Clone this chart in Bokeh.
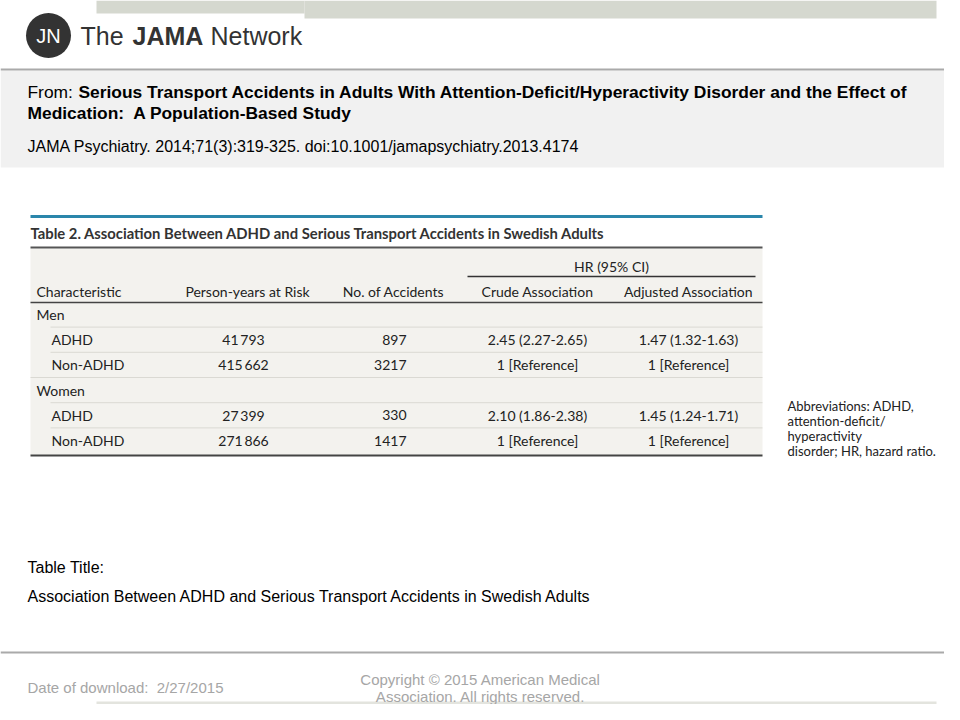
from bokeh.plotting import figure
from bokeh.models import Range1d, ColumnDataSource
from bokeh.core.properties import value
from bokeh.embed import file_html
from bokeh.resources import INLINE

# ---------------- data ----------------
characteristics = ["Men", "ADHD", "Non-ADHD", "Women", "ADHD", "Non-ADHD"]
is_group = [True, False, False, True, False, False]
person_years = ["", "41\u2009793", "415\u2009662", "", "27\u2009399", "271\u2009866"]
accidents = ["", "897", "3217", "", "330", "1417"]
crude = ["", "2.45 (2.27-2.65)", "1 [Reference]", "", "2.10 (1.86-2.38)", "1 [Reference]"]
adjusted = ["", "1.47 (1.32-1.63)", "1 [Reference]", "", "1.45 (1.24-1.71)", "1 [Reference]"]
headers = ["Characteristic", "Person-years at Risk", "No. of Accidents",
           "Crude Association", "Adjusted Association"]
span_header = "HR (95% CI)"
table_title = "Table 2. Association Between ADHD and Serious Transport Accidents in Swedish Adults"
abbrev_lines = ["Abbreviations: ADHD,", "attention-deficit/", "hyperactivity", "disorder; HR, hazard ratio."]
article_title_1 = "Serious Transport Accidents in Adults With Attention-Deficit/Hyperactivity Disorder and the Effect of"
article_title_2 = "Medication:\u00a0 A Population-Based Study"
citation = "JAMA Psychiatry. 2014;71(3):319-325. doi:10.1001/jamapsychiatry.2013.4174"
slide_table_title = "Association Between ADHD and Serious Transport Accidents in Swedish Adults"
download_text = "Date of download:\u00a0 2/27/2015"
copyright_lines = ["Copyright \u00a9 2015 American Medical", "Association. All rights reserved."]

W, H = 944, 704
p = figure(width=W, height=H, output_backend="svg", toolbar_location=None,
           x_range=Range1d(0, W), y_range=Range1d(H, 0),
           min_border=0, background_fill_color="white", border_fill_color="white")
p.axis.visible = False
p.grid.visible = False
p.outline_line_color = None

SANS = value("Liberation Sans")
TAB = value("Lato")

# ---------------- slide chrome ----------------
p.quad(left=[96, 304], right=[304, 936], top=[0, 0], bottom=[13, 18],
       fill_color="#d5d8cf", line_color=None)
p.quad(left=[0], right=[960], top=[70], bottom=[167], fill_color="#f1f1f1", line_color=None)
p.segment(x0=[0, 0], y0=[69, 652], x1=[960, 960], y1=[69, 652], line_color="#aaaaaa", line_width=2)
p.quad(left=[96], right=[936], top=[701], bottom=[720], fill_color="#e3e4de", line_color=None)

# logo
p.scatter(x=[48], y=[35], size=45, marker="circle", fill_color="#333333", line_color=None)
p.text(x=[48], y=[35], text=["JN"], text_align="center", text_baseline="middle",
       text_font=SANS, text_font_size="20px", text_color="white")
p.text(x=[80], y=[35], text=["The"], text_font=SANS, text_font_size="25px", text_color="#333333",
       text_baseline="middle")
p.text(x=[132], y=[35], text=["JAMA"], text_font=SANS, text_font_size="25px", text_color="#333333",
       text_font_style="bold", text_baseline="middle")
p.text(x=[210], y=[35], text=["Network"], text_font=SANS, text_font_size="25px", text_color="#333333",
       text_baseline="middle")

# header texts
p.text(x=[27], y=[91], text=["From: "], text_font=SANS, text_font_size="17.4px", text_color="#000000",
       text_baseline="middle")
p.text(x=[78], y=[91], text=[article_title_1], text_font=SANS, text_font_size="17.4px",
       text_font_style="bold", text_color="#000000", text_baseline="middle")
p.text(x=[27], y=[112], text=[article_title_2], text_font=SANS, text_font_size="17.4px",
       text_font_style="bold", text_color="#000000", text_baseline="middle")
p.text(x=[27], y=[146], text=[citation], text_font=SANS, text_font_size="16px", text_color="#000000",
       text_baseline="middle")

# ---------------- table ----------------
p.segment(x0=[30], y0=[216], x1=[762], y1=[216], line_color="#2a86ab", line_width=3)
p.text(x=[30], y=[232], text=[table_title], text_font=TAB, text_font_size="14.8px",
       text_font_style="bold", text_color="#333333", text_baseline="middle")
p.quad(left=[30], right=[762], top=[248], bottom=[455], fill_color="#f3f2ee", line_color=None)
p.segment(x0=[30], y0=[247], x1=[762], y1=[247], line_color="#555555", line_width=2)
p.segment(x0=[467], y0=[276], x1=[755], y1=[276], line_color="#333333", line_width=1.5)
p.segment(x0=[30], y0=[302], x1=[762], y1=[302], line_color="#444444", line_width=1.5)
p.segment(x0=[30], y0=[455], x1=[762], y1=[455], line_color="#444444", line_width=2)

p.text(x=[611], y=[266], text=[span_header], text_font=TAB, text_font_size="14px",
       text_align="center", text_baseline="middle", text_color="#222222")

hdr_x = [36, 247, 393, 537, 688]
hdr_align = ["left", "center", "center", "center", "center"]
p.text(x=hdr_x, y=[291] * 5, text=headers, text_font=TAB, text_font_size="14px",
       text_align=hdr_align, text_baseline="middle", text_color="#222222")

row_y0 = 314
row_h = 25.2
rows_y = [row_y0 + i * row_h for i in range(len(characteristics))]

# separators
sep_y, sep_x0 = [], []
for i in range(len(characteristics) - 1):
    sep_y.append(rows_y[i] + row_h / 2)
    sep_x0.append(30 if (is_group[i + 1]) else 50)
p.segment(x0=sep_x0, y0=sep_y, x1=[762] * len(sep_y), y1=sep_y, line_color="#dad9d3", line_width=1)

src = ColumnDataSource(dict(
    y=rows_y,
    cx=[36 if g else 51 for g in is_group],
    ch=characteristics, py=person_years, acc=accidents, cr=crude, ad=adjusted))
common = dict(source=src, y="y", text_font=TAB, text_font_size="14px",
              text_baseline="middle", text_color="#222222")
p.text(x="cx", text="ch", text_align="left", **common)
p.text(x=243, text="py", text_align="center", **common)
p.text(x=406, text="acc", text_align="right", **common)
p.text(x=537, text="cr", text_align="center", **common)
p.text(x=688, text="ad", text_align="center", **common)

p.text(x=[787] * 4, y=[405, 420, 435, 450], text=abbrev_lines, text_font=TAB, text_font_size="13px",
       text_baseline="middle", text_color="#222222")

# ---------------- footer ----------------
p.text(x=[27], y=[567], text=["Table Title:"], text_font=SANS, text_font_size="16px",
       text_baseline="middle", text_color="#000000")
p.text(x=[27], y=[596], text=[slide_table_title], text_font=SANS, text_font_size="16px",
       text_baseline="middle", text_color="#000000")
p.text(x=[27], y=[687], text=[download_text], text_font=SANS, text_font_size="15px",
       text_baseline="middle", text_color="#a6a6a6")
p.text(x=[480, 480], y=[679, 696], text=copyright_lines,
       text_font=SANS, text_font_size="15px", text_align="center",
       text_baseline="middle", text_color="#a6a6a6")

open("out.html", "w").write(file_html(p, INLINE))
